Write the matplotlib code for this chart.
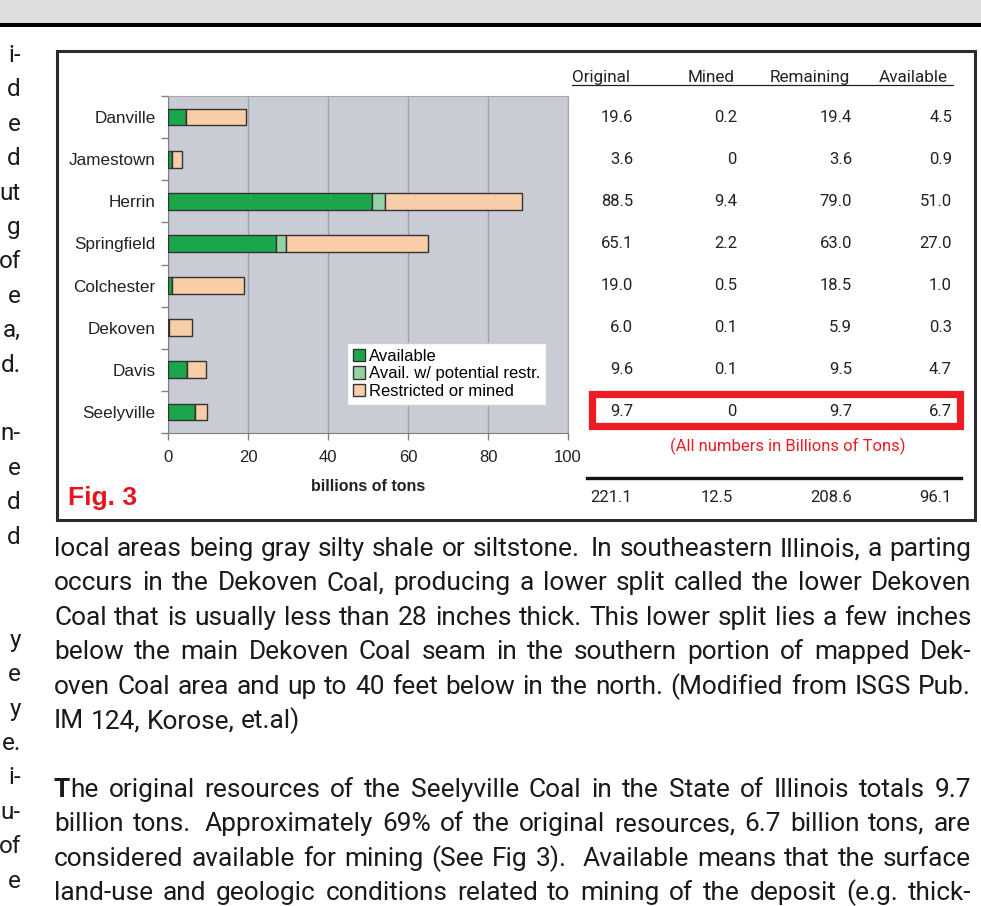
import matplotlib
matplotlib.use('Agg')
import matplotlib.pyplot as plt
import matplotlib.transforms as mtrans
from matplotlib.patches import Rectangle, Patch
from matplotlib.lines import Line2D

# chart + table data, billions of tons
coals = ['Danville', 'Jamestown', 'Herrin', 'Springfield', 'Colchester', 'Dekoven', 'Davis', 'Seelyville']
original = [19.6, 3.6, 88.5, 65.1, 19.0, 6.0, 9.6, 9.7]
mined = [0.2, 0, 9.4, 2.2, 0.5, 0.1, 0.1, 0]
remaining = [19.4, 3.6, 79.0, 63.0, 18.5, 5.9, 9.5, 9.7]
available = [4.5, 0.9, 51.0, 27.0, 1.0, 0.3, 4.7, 6.7]
potential = [0, 0, 3.2, 2.6, 0, 0, 0, 0]  # light green pieces
totals = [221.1, 12.5, 208.6, 96.1]
columns = ['Original', 'Mined', 'Remaining', 'Available']
xticks = [0, 20, 40, 60, 80, 100]
series = ['Available', 'Avail. w/ potential restr.', 'Restricted or mined']
colors = ['#1ca64c', '#96d3a4', '#f9cda8']

# page text around the figure
left_bits = ['i-', 'd', 'e', 'd', 'ut', 'g', 'of', 'e', 'a,', 'd.', '',
             'n-', 'e', 'd', 'd', '', '', 'y', 'e', 'y', 'e.', 'i-', 'u-', 'of', 'e']
para1 = ['local areas being gray silty shale or siltstone.  In southeastern Illinois, a parting',
         'occurs in the Dekoven Coal, producing a lower split called the lower Dekoven',
         'Coal that is usually less than 28 inches thick. This lower split lies a few inches',
         'below the main Dekoven Coal seam in the southern portion of mapped Dek-',
         'oven Coal area and up to 40 feet below in the north. (Modified from ISGS Pub.',
         'IM 124, Korose, et.al)']
para2 = ['^The original resources of the Seelyville Coal in the State of Illinois totals 9.7',
         'billion tons.  Approximately 69% of the original resources, 6.7 billion tons, are',
         'considered available for mining (See Fig 3).   Available means that the surface',
         'land-use and geologic conditions related to mining of the deposit (e.g. thick-']

W, H = 981, 906
fig = plt.figure(figsize=(W / 100, H / 100), dpi=100)
fig.patch.set_facecolor('white')
r = fig.canvas.get_renderer()


def fx(x):
    return x / W


def fy(y):
    return 1 - y / H


def box(x0, y0, x1, y1, **kw):
    fig.add_artist(Rectangle((fx(x0), fy(y1)), fx(x1) - fx(x0), fy(y0) - fy(y1),
                             transform=fig.transFigure, **kw))


# header band
box(0, 0, W, 23, facecolor='#dedede', edgecolor='none')
box(0, 23, W, 27, facecolor='black', edgecolor='none')

# figure frame
box(57, 51, 975, 520, fill=False, edgecolor='#2b2b2b', lw=2.2)

# --- bar chart ---
ax = fig.add_axes([fx(168), fy(433), fx(568) - fx(168), fy(96) - fy(433)])
ax.set_facecolor('#c9ccd4')
restricted = [o - a - p for o, a, p in zip(original, available, potential)]
ypos = list(range(len(coals)))
left = [0] * len(coals)
for vals, c in zip([available, potential, restricted], colors):
    ax.barh(ypos, vals, left=left, height=0.4, color=c, edgecolor='#333333', lw=1, zorder=3)
    left = [l + v for l, v in zip(left, vals)]
ax.set_xlim(0, 100)
ax.set_ylim(7.5, -0.5)
ax.set_xticks(xticks)
ax.set_xticklabels([str(t) for t in xticks], fontsize=12, family='Liberation Sans', color='#222222')
ax.set_yticks(ypos)
ax.set_yticklabels(coals, fontsize=12.3, family='Liberation Sans', color='#222222')
ax.set_yticks([i + 0.5 for i in range(-1, 8)], minor=True)
ax.tick_params(axis='y', which='major', length=0, pad=9)
ax.tick_params(axis='y', which='minor', length=5, color='#808080', width=1)
ax.tick_params(axis='x', length=5, color='#808080', width=1, pad=7)
ax.grid(axis='x', color='#9ea2a9', lw=1, zorder=0)
for s in ['left', 'bottom']:
    ax.spines[s].set_color('#7f7f7f')
for s in ['top', 'right']:
    ax.spines[s].set_color('#a4a8ae')
ax.set_xlabel('billions of tons', fontsize=11.5, fontweight='bold', family='Liberation Sans',
              color='#222222', labelpad=10)
handles = [Patch(facecolor=c, edgecolor='#333333', lw=1) for c in colors]
leg = ax.legend(handles, series, loc='upper left', bbox_to_anchor=(fx(347), fy(343)),
                bbox_transform=fig.transFigure, borderaxespad=0, fancybox=False,
                prop={'family': 'Liberation Sans', 'size': 12}, handlelength=0.75, handleheight=0.75,
                handletextpad=0.2, labelspacing=0.15, borderpad=0.35, framealpha=1)
leg.get_frame().set_edgecolor('#d0d0d0')
leg.get_frame().set_linewidth(1)

fig.text(fx(68), fy(505), 'Fig. 3', fontsize=19, fontweight='bold', color='#e8141c',
         family='Liberation Sans', ha='left', va='baseline')

# --- table on the right ---
body = 'Roboto'
head_x = [572, 688, 770, 879]
for x, name in zip(head_x, columns):
    fig.text(fx(x), fy(82), name, fontsize=12.3, family=body, color='#222222', ha='left', va='baseline')
fig.add_artist(Line2D([fx(572), fx(953)], [fy(85), fy(85)], color='#222222', lw=0.9,
                      transform=fig.transFigure))

rows_tf = mtrans.blended_transform_factory(fig.transFigure, ax.transData)
col_right = [633, 737, 852, 952]


def fmt(v):
    return '0' if v == 0 else f'{v:.1f}'


for col, xr in zip([original, mined, remaining, available], col_right):
    for i, v in enumerate(col):
        fig.text(fx(xr), i, fmt(v), transform=rows_tf, fontsize=12, family=body,
                 color='#222222', ha='right', va='center')

box(592, 394, 959.5, 425.5, fill=False, edgecolor='#ed1c24', lw=5.2)
fig.text(fx(788), fy(446), '(All numbers in Billions of Tons)', fontsize=12, family=body,
         color='#ed1c24', ha='center', va='center')
fig.add_artist(Line2D([fx(587), fx(961)], [fy(478), fy(478)], color='#111111', lw=2.4,
                      transform=fig.transFigure))
for v, xr in zip(totals, [632, 733, 852, 952]):
    fig.text(fx(xr), fy(497), f'{v:.1f}', fontsize=12, family=body, color='#222222',
             ha='right', va='center')


# --- running text ---
def tokens(line):
    out, w = [], 0
    for t in line.split(' '):
        if t == '':
            w += 0.5
            continue
        out.append((t, w))
        w = 1
    return out


def parts_of(word):
    # '^' marks a bold first letter
    if word.startswith('^'):
        return [(word[1], 'bold'), (word[2:], 'normal')]
    return [(word, 'normal')]


def draw_word(word, x, y, size):
    total = 0
    for txt, wt in parts_of(word):
        t = fig.text(fx(x + total), fy(y), txt, fontsize=size, family=body, fontweight=wt,
                     color='#1a1a1a', ha='left', va='baseline')
        total += t.get_window_extent(r).width
    return total


def measure(word, size):
    total = 0
    for txt, wt in parts_of(word):
        t = fig.text(0, 0, txt, fontsize=size, family=body, fontweight=wt)
        total += t.get_window_extent(r).width
        t.remove()
    return total


x0, x1 = 54, 971
base = 16
sp = measure('a a', base) - measure('aa', base)
natural = []
for line in para1[:-1] + para2:
    tk = tokens(line)
    natural.append(sum(measure(w, base) for w, _ in tk) + sp * sum(g for _, g in tk))
size = base * min((x1 - x0) * 0.995 / n for n in natural)
sp = measure('a a', size) - measure('aa', size)

# ends of the neighbouring column, clipped by the page edge
for k, s in enumerate(left_bits):
    if s:
        fig.text(fx(21), fy(62 + 34.4 * k), s, fontsize=size * 0.92, family=body, color='#1a1a1a',
                 ha='right', va='baseline')

lines = [(l, True) for l in para1[:-1]] + [(para1[-1], False), ('', False)] + [(l, True) for l in para2]
for j, (line, just) in enumerate(lines):
    if not line:
        continue
    y = 556 + 34.4 * j
    tk = tokens(line)
    widths = [measure(w, size) for w, _ in tk]
    gap = (x1 - x0 - sum(widths)) / sum(g for _, g in tk) if just else sp
    x = x0
    for (w, g), wd in zip(tk, widths):
        x += g * gap
        draw_word(w, x, y, size)
        x += wd

fig.savefig('out.png', dpi=100)
